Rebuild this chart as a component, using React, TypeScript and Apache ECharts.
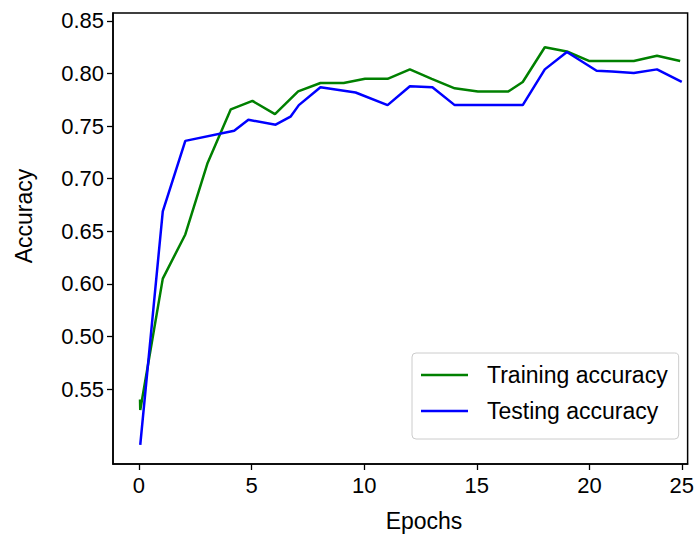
import React, { useEffect, useRef } from "react";
import * as echarts from "echarts";

// Training curve (epoch, accuracy)
const trainEpochs = [0.05, 0.06, 1.06, 2.06, 3.05, 4.08, 5.04, 6.04, 7.07, 8.06, 9.09, 10.04, 11.04, 12.03, 13.0, 14.02, 15.05, 16.4, 17.04, 18.02, 19.0, 19.98, 21.0, 21.97, 23.0, 24.03];
const trainAcc = [0.49, 0.48, 0.605, 0.647, 0.715, 0.766, 0.774, 0.7615, 0.783, 0.791, 0.791, 0.795, 0.795, 0.804, 0.795, 0.786, 0.783, 0.783, 0.792, 0.825, 0.821, 0.812, 0.812, 0.812, 0.817, 0.812];

// Testing curve (epoch, accuracy)
const testEpochs = [0.06, 1.06, 2.06, 4.23, 4.86, 6.07, 6.73, 7.1, 8.06, 9.62, 11.04, 12.03, 13.03, 14.02, 17.04, 18.02, 19.0, 20.32, 21.0, 21.97, 23.0, 24.1];
const testAcc = [0.447, 0.669, 0.736, 0.7457, 0.756, 0.7514, 0.759, 0.77, 0.787, 0.782, 0.77, 0.788, 0.787, 0.77, 0.77, 0.804, 0.8205, 0.8027, 0.802, 0.8005, 0.804, 0.792];

// Axis ticks and their printed labels
const xTickValues = [0, 5, 10, 15, 20, 24.1];
const xTickLabels = ["0", "5", "10", "15", "20", "25"];
const yTickValues = [0.5, 0.55, 0.6, 0.65, 0.7, 0.75, 0.8, 0.85];
const yTickLabels = ["0.55", "0.50", "0.60", "0.65", "0.70", "0.75", "0.80", "0.85"];

const xRange = [-1.15, 24.36];
const yRange = [0.4287, 0.8576];

const FONT = "'Liberation Sans', Arial, sans-serif";

const pairs = (xs: number[], ys: number[]) => xs.map((x, i) => [x, ys[i]]);
const lookup = (vals: number[], labels: string[]) => (v: number) => {
  const i = vals.findIndex((t) => Math.abs(t - v) < 1e-6);
  return i >= 0 ? labels[i] : "";
};

export default function App() {
  const ref = useRef<HTMLDivElement>(null);

  useEffect(() => {
    if (!ref.current) return;
    const chart = echarts.init(ref.current, undefined, { renderer: "svg" });
    chart.setOption({
      animation: false,
      backgroundColor: "#fff",
      grid: {
        left: 113,
        top: 13,
        right: 6,
        bottom: 71,
        show: true,
        borderColor: "#000",
        borderWidth: 1.5,
        backgroundColor: "transparent",
      },
      xAxis: {
        type: "value",
        min: xRange[0],
        max: xRange[1],
        splitLine: { show: false },
        axisLine: { show: true, onZero: false, lineStyle: { color: "#000", width: 1.5 } },
        axisTick: {
          show: true,
          customValues: xTickValues,
          length: 6,
          lineStyle: { color: "#000", width: 1.3 },
        },
        axisLabel: {
          customValues: xTickValues,
          formatter: lookup(xTickValues, xTickLabels),
          fontFamily: FONT,
          fontSize: 22,
          color: "#000",
          margin: 10,
        },
      },
      yAxis: {
        type: "value",
        min: yRange[0],
        max: yRange[1],
        splitLine: { show: false },
        axisLine: { show: true, onZero: false, lineStyle: { color: "#000", width: 1.5 } },
        axisTick: {
          show: true,
          customValues: yTickValues,
          length: 6,
          lineStyle: { color: "#000", width: 1.3 },
        },
        axisLabel: {
          customValues: yTickValues,
          formatter: lookup(yTickValues, yTickLabels),
          fontFamily: FONT,
          fontSize: 22,
          color: "#000",
          margin: 9,
        },
      },
      legend: {
        orient: "vertical",
        left: 412,
        top: 353,
        icon: "rect",
        itemWidth: 47,
        itemHeight: 2.5,
        itemGap: 8,
        padding: [8, 11, 14, 9],
        borderColor: "#cccccc",
        borderWidth: 1,
        borderRadius: 4,
        backgroundColor: "#fff",
        textStyle: {
          fontFamily: FONT,
          fontSize: 23,
          lineHeight: 28,
          color: "#000",
          padding: [0, 0, 0, 14],
        },
        data: ["Training accuracy", "Testing accuracy"],
      },
      graphic: [
        {
          type: "text",
          x: 424,
          y: 521,
          style: {
            text: "Epochs",
            fontFamily: FONT,
            fontSize: 23,
            fill: "#000",
            textAlign: "center",
            textVerticalAlign: "middle",
          },
        },
        {
          type: "text",
          x: 24,
          y: 216,
          rotation: Math.PI / 2,
          style: {
            text: "Accuracy",
            fontFamily: FONT,
            fontSize: 23,
            fill: "#000",
            textAlign: "center",
            textVerticalAlign: "middle",
          },
        },
      ],
      series: [
        {
          name: "Training accuracy",
          type: "line",
          data: pairs(trainEpochs, trainAcc),
          symbol: "none",
          color: "#008000",
          lineStyle: { color: "#008000", width: 2.5 },
        },
        {
          name: "Testing accuracy",
          type: "line",
          data: pairs(testEpochs, testAcc),
          symbol: "none",
          color: "#0000ff",
          lineStyle: { color: "#0000ff", width: 2.5 },
        },
      ],
    });
    return () => chart.dispose();
  }, []);

  return (
    <div
      ref={ref}
      style={{ position: "absolute", left: 0, top: 0, width: 697, height: 535 }}
    />
  );
}
